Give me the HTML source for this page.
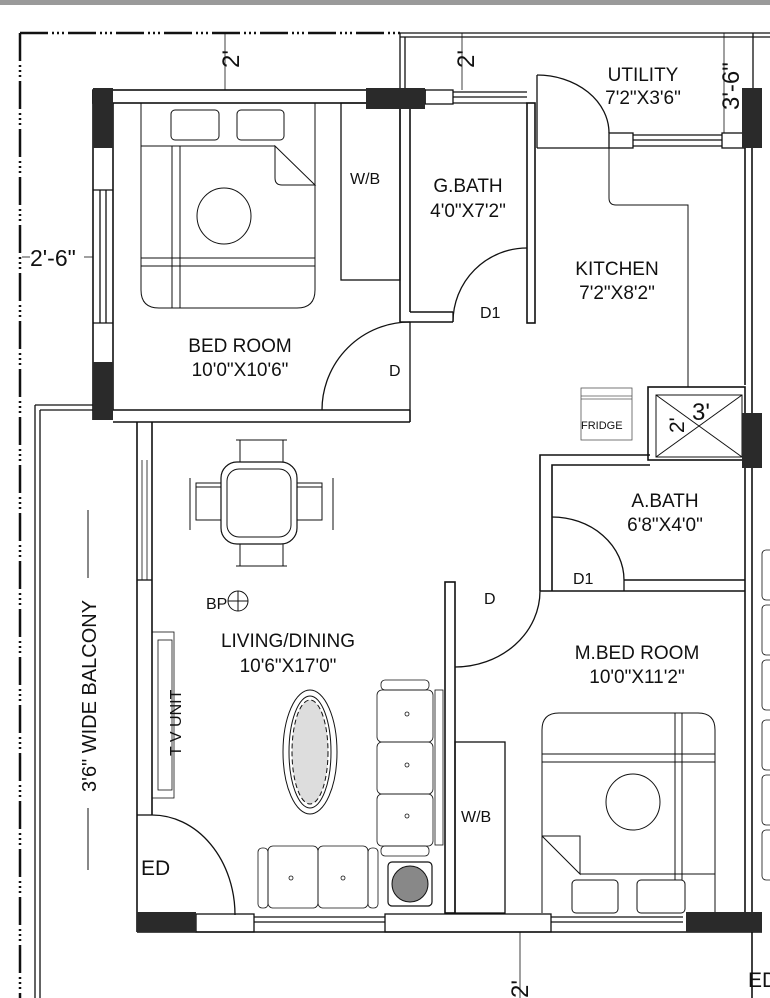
<!DOCTYPE html>
<html><head><meta charset="utf-8"><style>
html,body{margin:0;padding:0;background:#fff;}
svg{display:block;font-family:"Liberation Sans",sans-serif;}
text{fill:#111;}
</style></head><body>
<svg width="770" height="998" viewBox="0 0 770 998" xmlns="http://www.w3.org/2000/svg">
<rect x="0" y="0" width="770" height="5" fill="#9a9a9a"/>
<g stroke="#111" fill="none" stroke-width="1.3">
<line x1="20" y1="33" x2="400" y2="33" stroke-width="2.5" stroke-dasharray="28,4,2,3,2,3,2,4"/>
<line x1="20" y1="33" x2="20" y2="998" stroke-width="2.5" stroke-dasharray="28,4,2,3,2,3,2,4"/>
<line x1="400" y1="33" x2="770" y2="33"/><line x1="400" y1="37" x2="770" y2="37"/>
<line x1="400" y1="33" x2="400" y2="90"/><line x1="405" y1="37" x2="405" y2="90"/>
<line x1="753" y1="33" x2="753" y2="90"/>
<line x1="225" y1="33" x2="225" y2="90" stroke-width="0.8"/>
<line x1="462" y1="33" x2="462" y2="90" stroke-width="0.8"/>
<line x1="724" y1="33" x2="724" y2="133" stroke-width="0.8"/>
<line x1="22" y1="257" x2="30" y2="257" stroke-width="0.8"/><line x1="84" y1="257" x2="93" y2="257" stroke-width="0.8"/>
<line x1="520" y1="932" x2="520" y2="998" stroke-width="0.8"/>
<rect x="93" y="90" width="332" height="13" stroke-width="1.6"/>
<rect x="425" y="90" width="28" height="14"/>
<line x1="453" y1="92" x2="527" y2="92"/><line x1="453" y1="97" x2="527" y2="97"/><line x1="453" y1="103" x2="527" y2="103"/>
<line x1="93" y1="90" x2="93" y2="420" stroke-width="1.6"/><line x1="113" y1="103" x2="113" y2="410" stroke-width="1.6"/>
<line x1="93" y1="190" x2="113" y2="190"/><line x1="93" y1="323" x2="113" y2="323"/>
<line x1="100" y1="190" x2="100" y2="323"/><line x1="106" y1="190" x2="106" y2="323"/>
<line x1="113" y1="410" x2="410" y2="410" stroke-width="1.6"/><line x1="113" y1="422" x2="410" y2="422" stroke-width="1.6"/>
<line x1="410" y1="410" x2="410" y2="422" stroke-width="1.6"/>
<line x1="400" y1="103" x2="400" y2="322" stroke-width="1.6"/><line x1="410" y1="103" x2="410" y2="312" stroke-width="1.6"/>
<line x1="410" y1="312" x2="453" y2="312" stroke-width="1.6"/><line x1="400" y1="322" x2="453" y2="322" stroke-width="1.6"/><line x1="453" y1="312" x2="453" y2="322"/>
<line x1="410" y1="322" x2="410" y2="410"/>
<rect x="527" y="103" width="8" height="220" stroke-width="1.6"/>
<path d="M453 322 A74 74 0 0 1 527 248" />
<path d="M322 410 A88 88 0 0 1 410 322" />
<rect x="341" y="103" width="59" height="177"/>
<path d="M141 103 V290 Q141 308 159 308 H297 Q315 308 315 290 V103" stroke-width="1"/>
<rect x="171" y="110" width="48" height="30" rx="4" stroke-width="1"/>
<rect x="237" y="110" width="47" height="30" rx="4" stroke-width="1"/>
<line x1="141" y1="146" x2="275" y2="146" stroke-width="1"/>
<path d="M275 146 L315 185 H282 Q275 185 275 178 Z" stroke-width="1"/>
<line x1="141" y1="258" x2="315" y2="258" stroke-width="1"/><line x1="141" y1="266" x2="315" y2="266" stroke-width="1"/>
<line x1="172" y1="146" x2="172" y2="308" stroke-width="1"/><line x1="180" y1="146" x2="180" y2="308" stroke-width="1"/>
<ellipse cx="224" cy="216" rx="27" ry="28" stroke-width="1"/>
<line x1="537" y1="75" x2="537" y2="148"/>
<path d="M537 75 A72 58 0 0 1 609 133"/>
<line x1="537" y1="148" x2="609" y2="148"/>
<rect x="609" y="133" width="24" height="15"/><rect x="722" y="133" width="23" height="15"/>
<line x1="633" y1="135" x2="722" y2="135"/><line x1="633" y1="140" x2="722" y2="140"/><line x1="633" y1="146" x2="722" y2="146"/>
<path d="M609 148 V198 Q609 205 616 205 H688 V387" stroke-width="1"/>
<line x1="745" y1="148" x2="745" y2="385" stroke-width="1.6"/><line x1="752" y1="148" x2="752" y2="413" stroke-width="1.6"/>
<rect x="648" y="387" width="97" height="73" stroke-width="1.6"/>
<rect x="656" y="395" width="86" height="62" stroke-width="1"/>
<line x1="656" y1="395" x2="742" y2="457" stroke-width="1"/><line x1="742" y1="395" x2="656" y2="457" stroke-width="1"/>
<rect x="581" y="388" width="51" height="52" stroke-width="0.8" stroke="#555"/>
<line x1="581" y1="396" x2="632" y2="396" stroke-width="0.8" stroke="#555"/><line x1="581" y1="399" x2="632" y2="399" stroke-width="0.8" stroke="#555"/>
<path d="M540 591 V455 H650" stroke-width="1.6"/><path d="M552 591 V465 H650" stroke-width="1.6"/>
<line x1="745" y1="465" x2="745" y2="913" stroke-width="1.6"/><line x1="752" y1="465" x2="752" y2="998" stroke-width="1.6"/>
<line x1="624" y1="580" x2="745" y2="580" stroke-width="1.6"/><line x1="540" y1="591" x2="745" y2="591" stroke-width="1.6"/>
<line x1="624" y1="580" x2="624" y2="591"/>
<path d="M552 517 A72 63 0 0 1 624 580"/>
<rect x="445" y="582" width="10" height="331" stroke-width="1.6"/>
<path d="M455 667 A85 76 0 0 0 540 591"/>
<rect x="455" y="742" width="50" height="171"/>
<path d="M542 913 V730 Q542 713 559 713 H698 Q715 713 715 730 V913" stroke-width="1"/>
<line x1="542" y1="754" x2="715" y2="754" stroke-width="1"/><line x1="542" y1="762" x2="715" y2="762" stroke-width="1"/>
<line x1="675" y1="713" x2="675" y2="880" stroke-width="1"/><line x1="682" y1="713" x2="682" y2="880" stroke-width="1"/>
<ellipse cx="633" cy="802" rx="27" ry="28" stroke-width="1"/>
<path d="M542 836 H580 V874 L542 836" stroke-width="1"/><line x1="580" y1="874" x2="715" y2="874" stroke-width="1"/>
<rect x="572" y="880" width="46" height="33" rx="4" stroke-width="1"/><rect x="637" y="880" width="48" height="33" rx="4" stroke-width="1"/>
<rect x="762" y="550" width="12" height="50" rx="4" stroke-width="0.8"/><rect x="762" y="605" width="12" height="50" rx="4" stroke-width="0.8"/><rect x="762" y="660" width="12" height="50" rx="4" stroke-width="0.8"/><rect x="762" y="720" width="12" height="50" rx="4" stroke-width="0.8"/><rect x="762" y="775" width="12" height="50" rx="4" stroke-width="0.8"/><rect x="762" y="830" width="12" height="50" rx="4" stroke-width="0.8"/>
<line x1="137" y1="422" x2="137" y2="932" stroke-width="1.6"/><line x1="152" y1="422" x2="152" y2="815" stroke-width="1.6"/>
<line x1="137" y1="580" x2="152" y2="580"/><line x1="137" y1="815" x2="152" y2="815"/>
<line x1="142" y1="460" x2="142" y2="580" stroke-width="0.8"/><line x1="147" y1="460" x2="147" y2="580" stroke-width="0.8"/>
<path d="M152 815 A83 100 0 0 1 235 915"/>
<line x1="137" y1="932" x2="762" y2="932" stroke-width="1.6"/>
<rect x="196" y="914" width="58" height="18"/><rect x="385" y="914" width="166" height="18"/>
<line x1="254" y1="917" x2="385" y2="917"/><line x1="254" y1="922" x2="385" y2="922"/>
<line x1="551" y1="917" x2="683" y2="917"/><line x1="551" y1="922" x2="683" y2="922"/>
<line x1="152" y1="914" x2="196" y2="914"/>
<line x1="35" y1="405" x2="93" y2="405"/><line x1="40" y1="410" x2="93" y2="410"/>
<line x1="35" y1="405" x2="35" y2="998"/><line x1="40" y1="410" x2="40" y2="998"/>
<line x1="88" y1="510" x2="88" y2="578" stroke-width="1"/><line x1="88" y1="808" x2="88" y2="870" stroke-width="1"/>
<rect x="152" y="632" width="22" height="166" stroke-width="0.8"/><rect x="158" y="640" width="14" height="150" stroke-width="0.8"/>
<rect x="221" y="462" width="76" height="82" rx="16" stroke-width="1.2"/>
<rect x="227" y="469" width="64" height="68" rx="12" stroke-width="1"/>
<path d="M240 462 V440 H283 V462 M236 440 H287" stroke-width="1"/>
<path d="M240 544 V566 H283 V544 M236 566 H287" stroke-width="1"/>
<path d="M221 483 H196 V520 H221 M190 478 V530 M196 487 H221" stroke-width="1"/>
<path d="M297 483 H322 V520 H297 M333 478 V530 M322 487 H297" stroke-width="1"/>
<circle cx="238" cy="601" r="10" stroke-width="1"/><line x1="228" y1="601" x2="248" y2="601" stroke-width="1"/><line x1="238" y1="591" x2="238" y2="611" stroke-width="1"/>
<ellipse cx="310" cy="752" rx="27" ry="62" stroke-width="1"/>
<ellipse cx="310" cy="752" rx="21" ry="56" stroke-width="1" fill="#fff"/>
<ellipse cx="310" cy="752" rx="18" ry="52" stroke-width="1" stroke-dasharray="5,3" fill="#ddd"/>
<rect x="381" y="680" width="48" height="10" rx="4" stroke-width="0.8"/>
<rect x="377" y="690" width="56" height="52" rx="5" stroke-width="0.8"/><rect x="377" y="742" width="56" height="52" rx="5" stroke-width="0.8"/><rect x="377" y="794" width="56" height="52" rx="5" stroke-width="0.8"/>
<rect x="381" y="846" width="48" height="10" rx="4" stroke-width="0.8"/>
<rect x="435" y="690" width="8" height="155" stroke-width="0.8"/>
<rect x="258" y="848" width="10" height="60" rx="4" stroke-width="0.8"/>
<rect x="268" y="846" width="50" height="62" rx="5" stroke-width="0.8"/><rect x="318" y="846" width="50" height="62" rx="5" stroke-width="0.8"/>
<rect x="368" y="848" width="10" height="60" rx="4" stroke-width="0.8"/>
<rect x="388" y="862" width="44" height="44" rx="4" stroke-width="1.2"/>
<circle cx="410" cy="884" r="18" fill="#888" stroke-width="1"/>
<circle cx="407" cy="714" r="2" stroke-width="0.8"/><circle cx="407" cy="765" r="2" stroke-width="0.8"/><circle cx="407" cy="816" r="2" stroke-width="0.8"/>
<circle cx="291" cy="878" r="2" stroke-width="0.8"/><circle cx="343" cy="878" r="2" stroke-width="0.8"/>
</g>
<g fill="#2a2a2a">
<rect x="93" y="88" width="20" height="60"/><rect x="93" y="362" width="20" height="58"/>
<rect x="366" y="88" width="59" height="21"/>
<rect x="742" y="88" width="20" height="60"/><rect x="742" y="413" width="20" height="55"/>
<rect x="137" y="912" width="59" height="20"/><rect x="686" y="912" width="76" height="20"/>
</g>
<g font-size="19" text-anchor="middle">
<text x="240" y="352">BED ROOM</text><text x="240" y="376">10'0"X10'6"</text>
<text x="468" y="192">G.BATH</text><text x="468" y="217">4'0"X7'2"</text>
<text x="643" y="81">UTILITY</text><text x="643" y="104">7'2"X3'6"</text>
<text x="617" y="275">KITCHEN</text><text x="617" y="299">7'2"X8'2"</text>
<text x="665" y="507">A.BATH</text><text x="665" y="531">6'8"X4'0"</text>
<text x="637" y="659">M.BED ROOM</text><text x="637" y="683">10'0"X11'2"</text>
<text x="288" y="647">LIVING/DINING</text><text x="288" y="672">10'6"X17'0"</text>
</g>
<g font-size="16">
<text x="350" y="184">W/B</text><text x="461" y="822">W/B</text>
<text x="480" y="318">D1</text><text x="573" y="584">D1</text>
<text x="389" y="376">D</text><text x="484" y="604">D</text>
<text x="206" y="609">BP</text>
<text x="581" y="429" font-size="11">FRIDGE</text>
</g>
<text x="141" y="875" font-size="21">ED</text>
<text x="748" y="987" font-size="21">ED</text>
<text x="30" y="266" font-size="23">2'-6"</text>
<text x="692" y="420" font-size="24">3'</text>
<g font-size="24">
<text transform="translate(239,68) rotate(-90)">2'</text>
<text transform="translate(474,68) rotate(-90)">2'</text>
<text transform="translate(739,110) rotate(-90)">3'-6"</text>
<text transform="translate(684,433) rotate(-90)" font-size="21">2'</text>
<text transform="translate(528,998) rotate(-90)">2'</text>
</g>
<text transform="translate(96,792) rotate(-90)" font-size="20">3'6" WIDE BALCONY</text>
<text transform="translate(181,756) rotate(-90)" font-size="16">T V UNIT</text>
</svg>
</body></html>
